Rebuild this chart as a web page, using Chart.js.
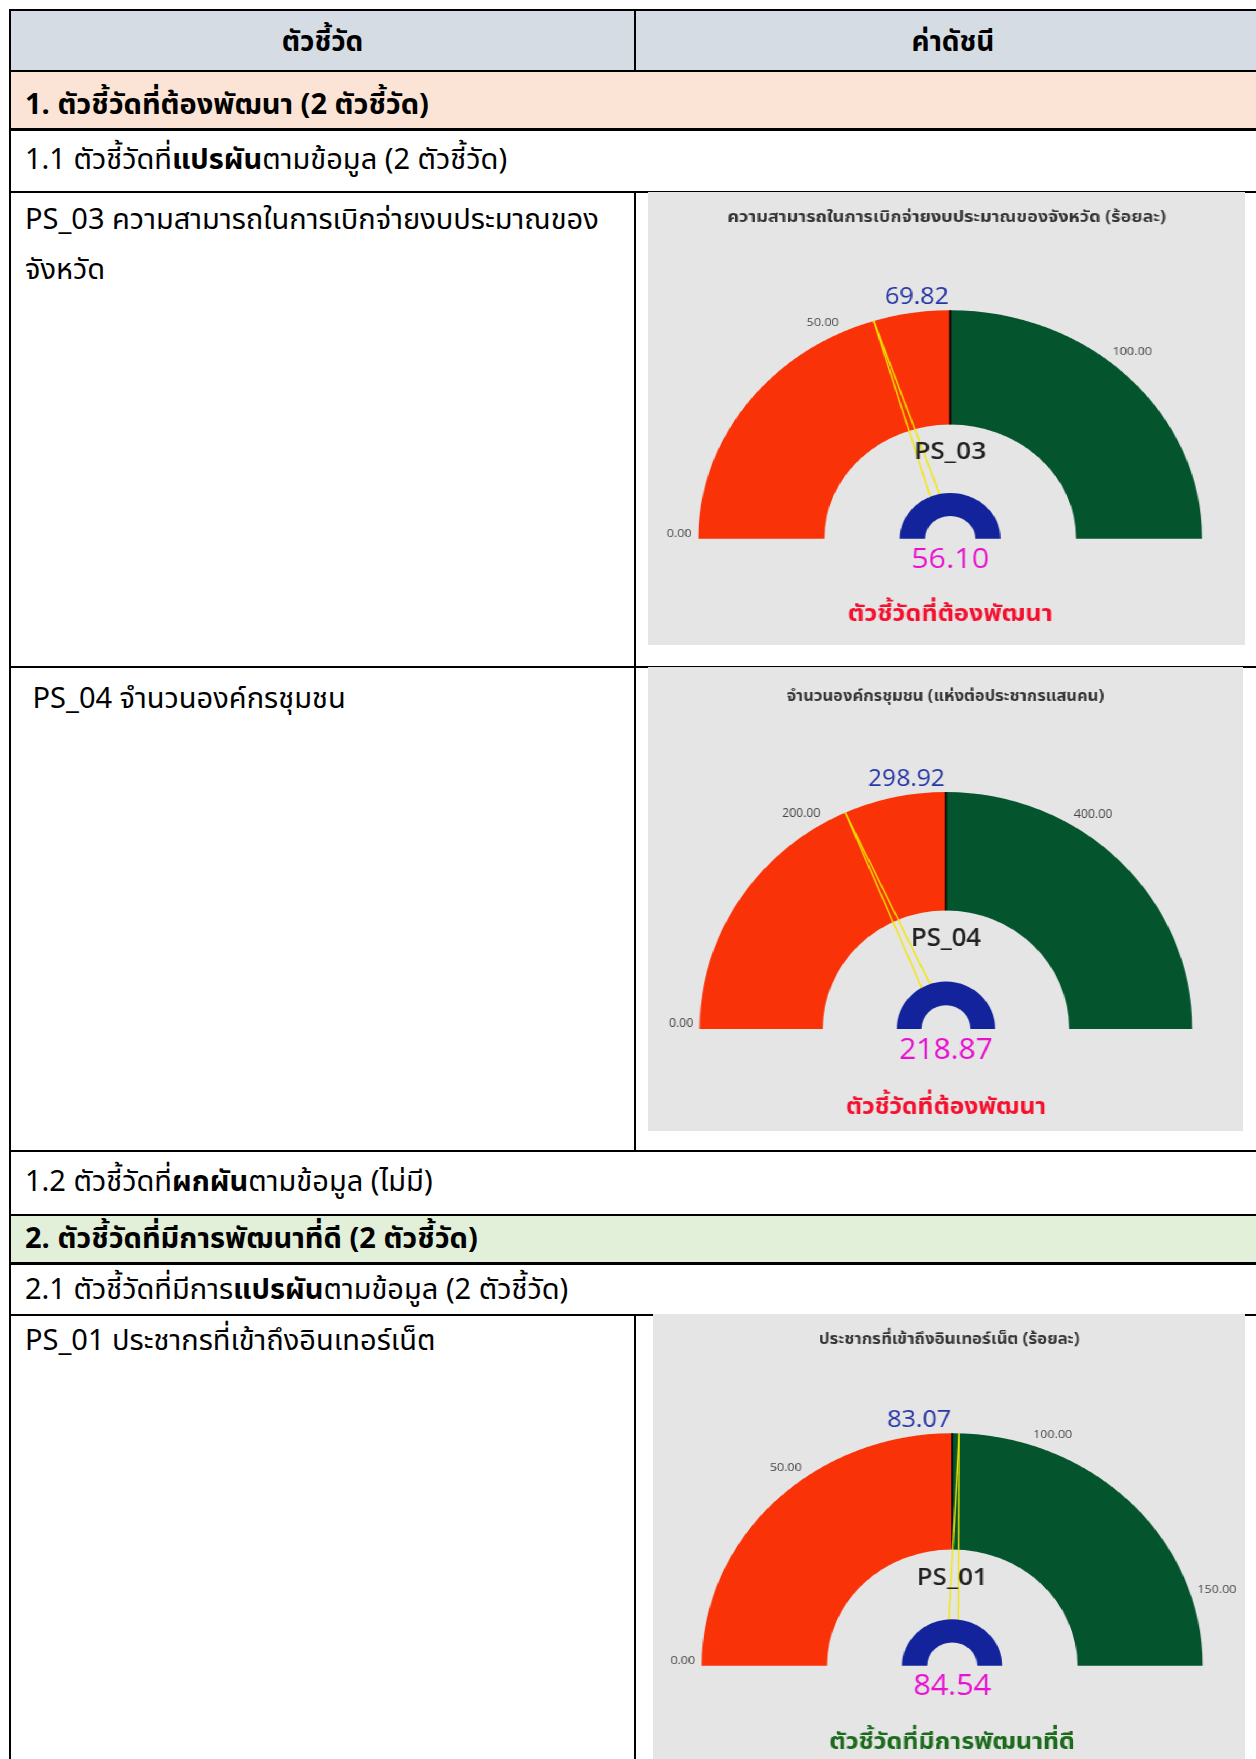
<!DOCTYPE html>
<html lang="th">
<head>
<meta charset="utf-8">
<title>ตัวชี้วัด</title>
<script src="https://cdn.jsdelivr.net/npm/chart.js@4.4.1/dist/chart.umd.min.js"></script>
<style>
  html, body { margin: 0; padding: 0; background: #fff; }
  body { width: 1256px; height: 1759px; overflow: hidden; position: relative;
         font-family: "Noto Sans Thai", "Leelawadee UI", Tahoma, "Noto Sans", sans-serif; color: #000; }
  .row { position: absolute; left: 9px; width: 1264px; box-sizing: border-box; border: 2px solid #000; }
  .vline { position: absolute; left: 634px; width: 2px; background: #000; }
  .txt { position: absolute; white-space: nowrap; font-size: 29px; line-height: 50px; }
  .hd { font-size: 28px; }
  .b { font-weight: 700; }
  .gauge { position: absolute; transform-origin: 0 0; background: #e5e5e5; }
  .gauge canvas { display: block; }
</style>
</head>
<body>

<!-- table rows -->
<div class="row" style="top:9px;height:63px;background:#d6dce4"></div>
<div class="row" style="top:70px;height:61px;background:#fbe4d5;border-bottom-width:3px"></div>
<div class="row" style="top:129px;height:64px;"></div>
<div class="row" style="top:191px;height:477px;"></div>
<div class="row" style="top:666px;height:486px;"></div>
<div class="row" style="top:1150px;height:66px;"></div>
<div class="row" style="top:1214px;height:51px;background:#e2efd9;border-bottom-width:3px"></div>
<div class="row" style="top:1263px;height:53px;"></div>
<div class="row" style="top:1314px;height:460px;"></div>
<div class="vline" style="top:10px;height:60px"></div>
<div class="vline" style="top:191px;height:959px"></div>
<div class="vline" style="top:1314px;height:460px"></div>

<!-- table texts -->
<div class="txt hd b" style="left:10px;width:625px;text-align:center;top:18px">ตัวชี้วัด</div>
<div class="txt hd b" style="left:635px;width:636px;text-align:center;top:18px">ค่าดัชนี</div>
<div class="txt b" style="left:25px;top:80px">1. ตัวชี้วัดที่ต้องพัฒนา (2 ตัวชี้วัด)</div>
<div class="txt" style="left:25px;top:135px">1.1 ตัวชี้วัดที่<span class="b">แปรผัน</span>ตามข้อมูล (2 ตัวชี้วัด)</div>
<div class="txt" style="left:25px;top:195px">PS_03 ความสามารถในการเบิกจ่ายงบประมาณของ<br>จังหวัด</div>
<div class="txt" style="left:25px;top:674px">&nbsp;PS_04 จำนวนองค์กรชุมชน</div>
<div class="txt" style="left:25px;top:1157px">1.2 ตัวชี้วัดที่<span class="b">ผกผัน</span>ตามข้อมูล (ไม่มี)</div>
<div class="txt b" style="left:25px;top:1214px">2. ตัวชี้วัดที่มีการพัฒนาที่ดี (2 ตัวชี้วัด)</div>
<div class="txt" style="left:25px;top:1265px">2.1 ตัวชี้วัดที่มีการ<span class="b">แปรผัน</span>ตามข้อมูล (2 ตัวชี้วัด)</div>
<div class="txt" style="left:25px;top:1316px">PS_01 ประชากรที่เข้าถึงอินเทอร์เน็ต</div>

<div id="g0" class="gauge"><canvas id="c0"></canvas></div>
<div id="g1" class="gauge"><canvas id="c1"></canvas></div>
<div id="g2" class="gauge"><canvas id="c2"></canvas></div>

<script>
// Indicator data
const gaugeCodes = ['PS_03', 'PS_04', 'PS_01'];
const gaugeTitles = [
  'ความสามารถในการเบิกจ่ายงบประมาณของจังหวัด (ร้อยละ)',
  'จำนวนองค์กรชุมชน (แห่งต่อประชากรแสนคน)',
  'ประชากรที่เข้าถึงอินเทอร์เน็ต (ร้อยละ)'
];
const targetValues = [69.82, 298.92, 83.07];   // threshold between the two bands
const actualValues = [56.10, 218.87, 84.54];   // needle value
const tickValues = [
  [0, 50, 100],
  [0, 200, 400],
  [0, 50, 100, 150]
];
const statusTexts = ['ตัวชี้วัดที่ต้องพัฒนา', 'ตัวชี้วัดที่ต้องพัฒนา', 'ตัวชี้วัดที่มีการพัฒนาที่ดี'];
const statusColors = ['#f5102e', '#f5102e', '#1c6b1c'];

// Panel placement on the page (px) and the horizontal stretch of each gauge image
const panels = [
  { left: 648, top: 192,  width: 597, height: 453, cx: 950, cy: 539,  r: 229, sx: 1.10 },
  { left: 648, top: 667,  width: 595, height: 464, cx: 946, cy: 1029, r: 237, sx: 1.04 },
  { left: 653, top: 1314, width: 592, height: 460, cx: 952, cy: 1666, r: 233, sx: 1.075 }
];

const RED = '#f93207', GREEN = '#04552e', BLUE = '#13239b', NEEDLE = '#f3e600';
const FONT = '"Open Sans", "Noto Sans Thai", "Noto Sans", sans-serif';

function angleOf(value, max) { return Math.PI * (1 - value / max); }

const gaugePlugin = {
  id: 'gaugeDecor',
  afterDatasetDraw(chart, args) {
    if (args.index !== 0) return;
    const g = chart.options.plugins.gaugeDecor;
    const arc = chart.getDatasetMeta(0).data[0];
    const { x, y, outerRadius: R, innerRadius: Ri } = arc;
    const ctx = chart.ctx;
    ctx.save();
    // band boundary
    ctx.strokeStyle = '#000';
    ctx.lineWidth = 1.6;
    ctx.beginPath();
    ctx.moveTo(x, y - Ri);
    ctx.lineTo(x, y - R);
    ctx.stroke();
    // needle outline
    const a = angleOf(g.value, g.max);
    const dx = Math.cos(a), dy = -Math.sin(a);
    const px = -dy, py = dx;          // perpendicular
    const w = 5.5;
    const tipX = x + dx * R, tipY = y + dy * R;
    const t0 = 0.17;
    ctx.strokeStyle = NEEDLE;
    ctx.lineWidth = 1.4;
    [1, -1].forEach(s => {
      const bx = x + s * px * w, by = y + s * py * w;
      ctx.beginPath();
      ctx.moveTo(bx + (tipX - bx) * t0, by + (tipY - by) * t0);
      ctx.lineTo(tipX, tipY);
      ctx.stroke();
    });
    ctx.restore();
  },
  afterDraw(chart) {
    const g = chart.options.plugins.gaugeDecor;
    const arc = chart.getDatasetMeta(0).data[0];
    const { x, y, outerRadius: R } = arc;
    const k = R / 230;
    const ctx = chart.ctx;
    ctx.save();
    // title
    ctx.fillStyle = '#353535';
    ctx.font = `700 ${g.titleSize * k}px ${FONT}`;
    ctx.textAlign = 'center';
    ctx.textBaseline = 'middle';
    ctx.fillText(g.title, chart.width / 2, y - 323 * k);
    // tick labels
    ctx.fillStyle = '#444';
    ctx.font = `400 ${11.5 * k}px ${FONT}`;
    ctx.textBaseline = 'bottom';
    g.ticks.forEach(t => {
      const a = angleOf(t, g.max);
      const deg = a * 180 / Math.PI;
      const tx = x + Math.cos(a) * (R + 6);
      const ty = y - Math.sin(a) * (R + 6);
      ctx.textAlign = deg > 91 ? 'right' : (deg < 89 ? 'left' : 'center');
      ctx.fillText(t.toFixed(2), tx, ty + 1);
    });
    // threshold value
    ctx.fillStyle = '#2535a5';
    ctx.font = `400 ${23 * k}px ${FONT}`;
    ctx.textAlign = 'right';
    ctx.textBaseline = 'alphabetic';
    ctx.fillText(g.target.toFixed(2), x - 1, y - R - 6 * k);
    // indicator code
    ctx.fillStyle = '#222';
    ctx.font = `600 ${24 * k}px ${FONT}`;
    ctx.textAlign = 'center';
    ctx.textBaseline = 'middle';
    ctx.fillText(g.code, x, y - 87 * k);
    // actual value
    ctx.fillStyle = '#e90fd0';
    ctx.font = `400 ${28 * k}px ${FONT}`;
    ctx.fillText(g.value.toFixed(2), x, y + 21 * k);
    // status
    ctx.fillStyle = g.statusColor;
    ctx.font = `700 ${23 * k}px ${FONT}`;
    ctx.fillText(g.status, x, y + 76 * k);
    ctx.restore();
  }
};

const titleSizes = [16.5, 15.5, 15.5];

panels.forEach((p, i) => {
  const W = p.width / p.sx, H = p.height;
  const box = document.getElementById('g' + i);
  box.style.left = p.left + 'px';
  box.style.top = p.top + 'px';
  box.style.width = W + 'px';
  box.style.height = H + 'px';
  box.style.transform = `scaleX(${p.sx})`;
  const canvas = document.getElementById('c' + i);
  canvas.width = W; canvas.height = H;
  canvas.style.width = W + 'px'; canvas.style.height = H + 'px';
  const ccx = (p.cx - p.left) / p.sx, ccy = p.cy - p.top;
  const max = targetValues[i] * 2;
  new Chart(canvas, {
    type: 'doughnut',
    data: {
      labels: ['ต่ำกว่าค่าเป้าหมาย', 'สูงกว่าค่าเป้าหมาย'],
      datasets: [
        { data: [targetValues[i], max - targetValues[i]], backgroundColor: [RED, GREEN], borderWidth: 0, weight: 5, order: 2 },
        { data: [1], backgroundColor: ['rgba(0,0,0,0)'], borderWidth: 0, weight: 3, order: 1 },
        { data: [1], backgroundColor: [BLUE], borderWidth: 0, weight: 1, order: 0 }
      ]
    },
    options: {
      responsive: false,
      devicePixelRatio: 1,
      animation: false,
      events: [],
      rotation: -90,
      circumference: 180,
      cutout: '10%',
      layout: { padding: { left: ccx - p.r, right: W - ccx - p.r, top: ccy - p.r, bottom: H - ccy } },
      plugins: {
        legend: { display: false },
        tooltip: { enabled: false },
        gaugeDecor: {
          title: gaugeTitles[i], titleSize: titleSizes[i], code: gaugeCodes[i], target: targetValues[i],
          value: actualValues[i], max: max, ticks: tickValues[i], status: statusTexts[i], statusColor: statusColors[i]
        }
      }
    },
    plugins: [gaugePlugin]
  });
});
</script>
</body>
</html>
